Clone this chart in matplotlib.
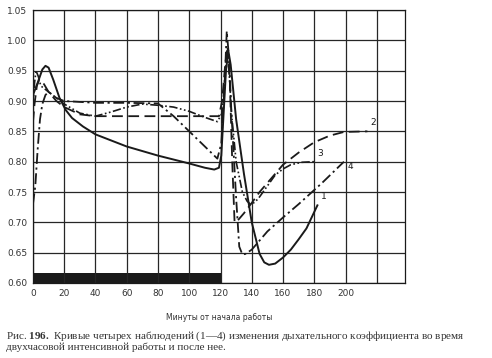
import matplotlib.pyplot as plt
import numpy as np

plt.rcParams["mathtext.fontset"] = "custom"
plt.rcParams["mathtext.rm"] = "Liberation Serif"
plt.rcParams["mathtext.bf"] = "Liberation Serif:bold"

# curve 1 (solid)
x1 = [0, 3, 6, 8, 10, 13, 17, 21, 25, 32, 40, 50, 60, 80, 100, 110, 116, 119, 120.5, 122, 123.5, 125, 126.5,
      130, 135, 140, 145, 148, 151, 155, 160, 165, 170, 175, 182]
y1 = [0.91, 0.93, 0.952, 0.958, 0.955, 0.935, 0.905, 0.885, 0.872, 0.858, 0.845, 0.835, 0.825, 0.81, 0.797,
      0.79, 0.787, 0.79, 0.81, 0.88, 0.95, 0.983, 0.96, 0.87, 0.78, 0.70, 0.648, 0.634, 0.63, 0.632, 0.642,
      0.655, 0.672, 0.69, 0.728]
# curve 2 (dashed)
x2 = [0, 1, 2.5, 4, 7, 10, 15, 20, 30, 40, 60, 100, 119, 121, 123, 124.5, 126, 127.5, 129, 131, 135, 140, 145,
      150, 155, 160, 170, 180, 190, 199, 214]
y2 = [0.865, 0.895, 0.925, 0.935, 0.928, 0.915, 0.9, 0.89, 0.878, 0.875, 0.875, 0.875, 0.875, 0.9, 0.96, 0.99,
      0.93, 0.8, 0.70, 0.703, 0.715, 0.732, 0.75, 0.765, 0.78, 0.795, 0.815, 0.832, 0.843, 0.849, 0.85]
# curve 3 (dash-dot-dot)
x3 = [0, 1, 2, 3.5, 5, 10, 20, 30, 40, 50, 60, 70, 80, 90, 100, 110, 118, 121, 122.5, 124, 125.5, 127, 130,
      134, 137, 139, 142, 145, 150, 155, 160, 165, 172, 180]
y3 = [0.89, 0.93, 0.95, 0.94, 0.925, 0.915, 0.895, 0.88, 0.875, 0.882, 0.89, 0.895, 0.893, 0.89, 0.883, 0.873,
      0.866, 0.88, 0.93, 0.98, 0.95, 0.88, 0.8, 0.75, 0.735, 0.73, 0.733, 0.742, 0.76, 0.778, 0.788, 0.795,
      0.799, 0.80]
# curve 4 (dash-dot)
x4 = [0, 1.5, 3, 4.5, 6, 8, 10, 15, 20, 40, 60, 80, 90, 100, 110, 118, 120.5, 122.5, 124, 125.5, 127, 130, 132,
      134, 136, 140, 150, 160, 170, 185, 199]
y4 = [0.73, 0.76, 0.82, 0.87, 0.895, 0.91, 0.915, 0.905, 0.9, 0.897, 0.897, 0.896, 0.875, 0.85, 0.825, 0.805,
      0.83, 0.92, 1.015, 0.97, 0.88, 0.74, 0.66, 0.647, 0.648, 0.655, 0.685, 0.708, 0.73, 0.765, 0.80]

xticks = list(range(0, 221, 20))
xticklabels = ["0", "20", "40", "60", "80", "100", "120", "140", "160", "180", "200", ""]
yticks = [0.60, 0.65, 0.70, 0.75, 0.80, 0.85, 0.90, 0.95, 1.00, 1.05]
work = (0, 120)  # working period, black bar

ink = "#1a1a1a"
fig = plt.figure(figsize=(4.92, 3.58), dpi=100)
ax = fig.add_axes([0.067, 0.2095, 0.756, 0.7625])

ax.plot(x1, y1, "-", color=ink, lw=1.4)
ax.plot(x2, y2, color=ink, lw=1.3, ls=(0, (6, 3)))
ax.plot(x3, y3, color=ink, lw=1.2, ls=(0, (5, 1.5, 1, 1.5, 1, 1.5)))
ax.plot(x4, y4, color=ink, lw=1.3, ls=(0, (6, 2, 1.2, 2)))

ax.fill_between(work, 0.60, 0.617, color=ink, lw=0)

for lab, xx, yy in [("1", x1, y1), ("2", x2, y2), ("3", x3, y3), ("4", x4, y4)]:
    dy = -0.012 if lab == "4" else 0.01
    ax.text(xx[-1] + 2, yy[-1] + dy, lab, fontsize=6.5, color=ink)

ax.set_xlim(0, 238)
ax.set_ylim(0.60, 1.05)
ax.set_xticks(xticks)
ax.set_xticklabels(xticklabels)
ax.set_yticks(yticks)
ax.set_yticklabels(["%.2f" % t for t in yticks])
ax.tick_params(length=0, labelsize=6.5, colors="#333333", pad=4)
ax.grid(True, color="#262626", lw=0.9)
for s in ax.spines.values():
    s.set_color(ink)
    s.set_linewidth(0.9)

ax.set_xlabel("Минуты от начала работы", fontsize=5.5, color="#333333", labelpad=11)

fig.text(0.012, 0.055, "Рис. $\\mathbf{196.}$ Кривые четырех наблюдений (1—4) изменения дыхательного коэффициента во время",
         fontsize=8, family="Liberation Serif", color="#333333")
fig.text(0.012, 0.022, "двухчасовой интенсивной работы и после нее.",
         fontsize=8, family="Liberation Serif", color="#333333")

fig.savefig("out.png", dpi=100)
